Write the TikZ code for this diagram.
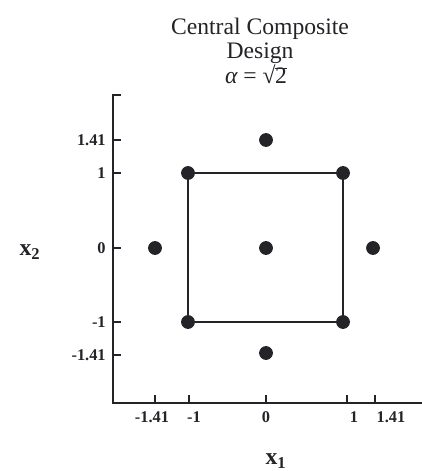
\documentclass[tikz,border=0pt]{standalone}
\usepackage{fontspec}
\setmainfont{Liberation Serif}
\usetikzlibrary{positioning}
\definecolor{inkgray}{RGB}{35,35,40}

\begin{document}
\begin{tikzpicture}[x=0.55pt, y=-0.55pt,
    dot/.style={circle, fill=inkgray, inner sep=0pt, minimum size=7.6pt},
    axisline/.style={line width=1.1pt, draw=inkgray},
    ticklab/.style={font=\fontsize{9}{10}\selectfont\bfseries, text=inkgray, inner sep=0pt},
    titlelab/.style={font=\fontsize{13}{15}\selectfont, text=inkgray, inner sep=0pt, anchor=base},
    axlab/.style={font=\fontsize{13}{15}\selectfont\bfseries, text=inkgray, inner sep=0pt}]

    \useasboundingbox (0,0) rectangle (422,471);

    % Title
    \node[titlelab] (title1) at (260,35) {Central Composite};
    \node[titlelab] (title2) at (260,59) {Design};
    \node[titlelab] (title3) at (256,84)
        {{\itshape α} = √\kern-0.02em\rlap{\rule[0.62em]{0.52em}{0.05em}}2};

    % Axes
    \coordinate (ystub) at (121,95);
    \coordinate (ytop) at (113,95);
    \coordinate (orig) at (113,403);
    \coordinate (xend) at (422,403);
    \draw[axisline] (ystub) -- (ytop) -- (orig) -- (xend);

    % Ticks on x2
    \foreach \y/\lab [count=\i] in {140/1.41, 173/1, 248/0, 322/-1, 355/-1.41} {
        \draw[axisline] (113,\y) -- (121,\y);
        \node[ticklab, anchor=east] (ylab\i) at (106,\y) {\lab};
    }

    % Ticks on x1
    \foreach \x/\lx/\lab [count=\i] in {155/152/-1.41, 189/194/-1, 266/266/0, 347/354/1, 375/391/1.41} {
        \draw[axisline] (\x,403) -- (\x,395);
        \node[ticklab] (xlab\i) at (\lx,417) {\lab};
    }

    % Axis labels
    \node[axlab] (xtwo) at (30,252) {x\textsubscript{2}};
    \node[axlab] (xone) at (276,461) {x\textsubscript{1}};

    % Design points
    \node[dot] (c) at (266,248) {};
    \node[dot] (ul) at (188,173) {};
    \node[dot] (ur) at (343,173) {};
    \node[dot] (lr) at (343,322) {};
    \node[dot] (ll) at (188,322) {};
    \node[dot] (at) at (266,140) {};
    \node[dot] (ab) at (266,353) {};
    \node[dot] (al) at (155,248) {};
    \node[dot] (ar) at (373,248) {};

    % Factorial square
    \draw[axisline] (ul.center) -- (ur.center) -- (lr.center) -- (ll.center) -- cycle;
\end{tikzpicture}
\end{document}
